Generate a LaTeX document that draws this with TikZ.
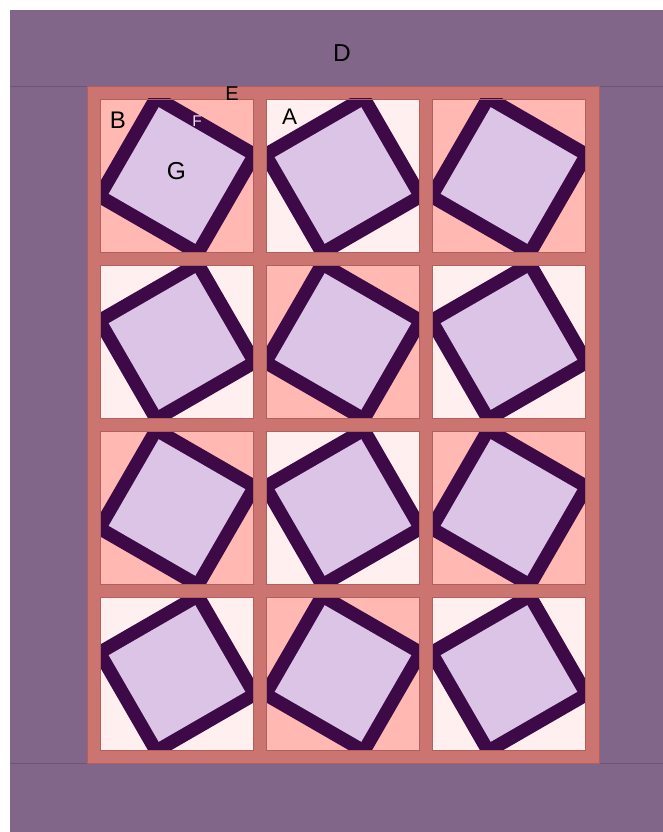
\documentclass[tikz,border=0pt]{standalone}
\usepackage{fontspec}
\setmainfont{Liberation Sans}
\definecolor{outerp}{HTML}{82668A}
\definecolor{bordline}{HTML}{6C5474}
\definecolor{sash}{HTML}{CC7470}
\definecolor{sashline}{HTML}{B0615F}
\definecolor{pinkb}{HTML}{FFB9B2}
\definecolor{paleb}{HTML}{FFF0EF}
\definecolor{darksq}{HTML}{3D0A47}
\definecolor{lav}{HTML}{DCC4E6}
\definecolor{flab}{HTML}{EEE6F0}
\tikzset{
  lab/.style={inner sep=0pt, text=black},
  blockedge/.style={draw=sashline, line width=0.5pt},
}
\begin{document}
\begin{tikzpicture}[x=1pt,y=-1pt]
\useasboundingbox (0,0) rectangle (663,832);
\fill[white] (0,0) rectangle (663,832);
\fill[outerp] (10,10) rectangle (663,832);
\draw[bordline, line width=0.8pt] (10,86) -- (663,86);
\draw[bordline, line width=0.8pt] (10,763) -- (663,763);
\fill[sash, draw=sashline, line width=0.6pt] (87,86) rectangle (599,763);
\foreach \r/\y in {0/99,1/265,2/431,3/597}{
  \foreach \c/\x in {0/100,1/266,2/432}{
    \pgfmathtruncatemacro\pp{mod(\r+\c,2)}
    \ifnum\pp=0
      \def\bcol{pinkb}\def\ang{-30}
    \else
      \def\bcol{paleb}\def\ang{30}
    \fi
    \begin{scope}
      \clip (\x,\y) rectangle ++(153.5,153);
      \fill[\bcol] (\x,\y) rectangle ++(153.5,153);
      \begin{scope}[shift={(\x+77,\y+76.5)}, rotate=\ang]
        \fill[darksq] (-63.5,-63.5) rectangle (63.5,63.5);
        \fill[lav] (-50,-50) rectangle (50,50);
      \end{scope}
    \end{scope}
    \draw[blockedge] (\x,\y) rectangle ++(153.5,153);
  }
}
\node[lab, font=\fontsize{24.5}{26}\selectfont] (D) at (342,53.5) {D};
\node[lab, font=\fontsize{20}{22}\selectfont] (E) at (232,94) {E};
\node[lab, font=\fontsize{24}{26}\selectfont] (B) at (118,120.5) {B};
\node[lab, text=flab, font=\fontsize{15.5}{18}\selectfont] (F) at (197,121.5) {F};
\node[lab, font=\fontsize{22.5}{24}\selectfont] (A) at (289.5,117) {A};
\node[lab, font=\fontsize{24.5}{26}\selectfont] (G) at (176.5,171) {G};
\end{tikzpicture}
\end{document}
